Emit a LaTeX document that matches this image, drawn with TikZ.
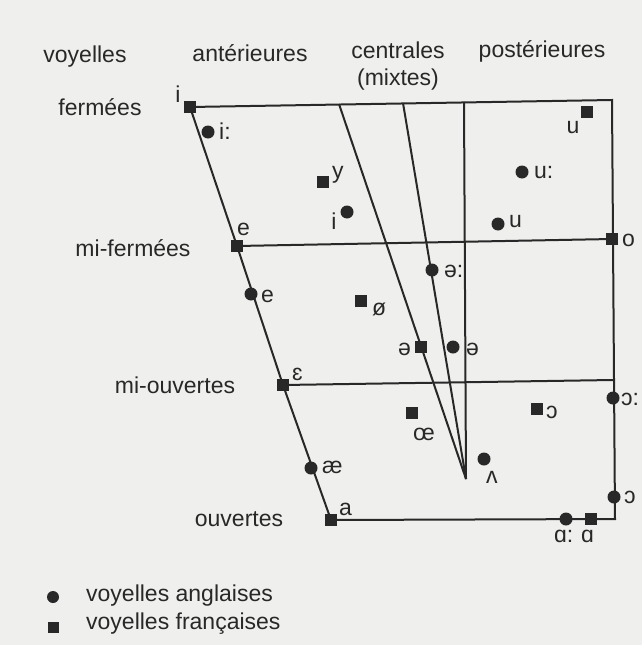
\documentclass[tikz,border=0pt]{standalone}
\usepackage{fontspec}
\setmainfont{Liberation Sans}
\definecolor{paper}{RGB}{239,239,237}
\definecolor{ink}{RGB}{40,40,40}
\tikzset{
  en/.style={circle, fill=ink, inner sep=0pt, minimum size=13pt},
  fr/.style={rectangle, fill=ink, inner sep=0pt, minimum size=12pt},
  lbl/.style={inner sep=0pt, text=ink, font=\fontsize{23}{27}\selectfont},
  chart/.style={draw=ink, line width=2pt}
}
\begin{document}
\begin{tikzpicture}[x=1pt, y=-1pt]
  \fill [paper] (0,0) rectangle (642,645);
  \useasboundingbox (0,0) rectangle (642,645);
  % headings
  \node [lbl, anchor=base] (hvoy) at (85,62) {voyelles};
  \node [lbl, anchor=base] (hant) at (250,61) {antérieures};
  \node [lbl, anchor=base] (hcen) at (398,58) {centrales};
  \node [lbl, anchor=base] (hmix) at (398,85) {(mixtes)};
  \node [lbl, anchor=base] (hpos) at (542,57) {postérieures};
  \node [lbl, anchor=base] (rfer) at (100,115) {fermées};
  \node [lbl, anchor=base] (rmif) at (133,256) {mi-fermées};
  \node [lbl, anchor=base] (rmio) at (175,393) {mi-ouvertes};
  \node [lbl, anchor=base] (rouv) at (239,526) {ouvertes};
  % corners of the chart
  \coordinate (tr) at (612,100);
  \coordinate (br) at (615,519);
  \coordinate (mor) at (613,380);
  \coordinate (fa) at (339,104);
  \coordinate (fb) at (403,103);
  \coordinate (fc) at (464,102);
  \coordinate (apex) at (466,479);
  % vowels
  \node [fr] (i) at (190,107) {};
  \node [lbl, anchor=base] (li) at (178,102) {i};
  \node [en] (iiE) at (208,132) {};
  \node [lbl, anchor=base west] (liiE) at (219,139) {i:};
  \node [fr] (y) at (323,182) {};
  \node [lbl, anchor=base west] (ly) at (332,178) {y};
  \node [en] (iE) at (347,212) {};
  \node [lbl, anchor=base] (liE) at (334,229) {i};
  \node [fr] (uF) at (587,112) {};
  \node [lbl, anchor=base] (luF) at (573,133) {u};
  \node [en] (uuE) at (522,172) {};
  \node [lbl, anchor=base west] (luuE) at (534,178) {u:};
  \node [en] (uE) at (498,224) {};
  \node [lbl, anchor=base west] (luE) at (509,227) {u};
  \node [fr] (e) at (237,246) {};
  \node [lbl, anchor=base west] (le) at (237,235) {e};
  \node [fr] (o) at (612,239) {};
  \node [lbl, anchor=base west] (lo) at (622,246) {o};
  \node [en] (eeE) at (432,270) {};
  \node [lbl, anchor=base west] (leeE) at (444,277) {ə:};
  \node [en] (eE) at (251,294) {};
  \node [lbl, anchor=base west] (leE) at (261,302) {e};
  \node [fr] (oeF) at (361,301) {};
  \node [lbl, anchor=base west] (loeF) at (372,315) {ø};
  \node [fr] (schF) at (421,347) {};
  \node [lbl, anchor=base east] (lschF) at (411,355) {ə};
  \node [en] (schE) at (453,347) {};
  \node [lbl, anchor=base west] (lschE) at (466,355) {ə};
  \node [fr] (eps) at (283,385) {};
  \node [lbl, anchor=base west] (leps) at (292,380) {ɛ};
  \node [en] (ooE) at (613,398) {};
  \node [lbl, anchor=base west] (looE) at (621,405) {ɔ:};
  \node [fr] (oF) at (537,409) {};
  \node [lbl, anchor=base west] (loF) at (546,418) {ɔ};
  \node [fr] (oelig) at (412,413) {};
  \node [lbl, anchor=base] (loelig) at (424,440) {œ};
  \node [en] (ae) at (311,468) {};
  \node [lbl, anchor=base west] (lae) at (322,473) {æ};
  \node [en] (wedge) at (484,459) {};
  \node [lbl, anchor=base west] (lwedge) at (486,483) {ʌ};
  \node [en] (oE) at (614,497) {};
  \node [lbl, anchor=base west] (loE) at (624,503) {ɔ};
  \node [fr] (a) at (331,520) {};
  \node [lbl, anchor=base west] (la) at (339,515) {a};
  \node [en] (aaE) at (566,519) {};
  \node [lbl, anchor=base west] (laaE) at (554,542) {ɑ:};
  \node [fr] (aF) at (591,519) {};
  \node [lbl, anchor=base west] (laF) at (581,542) {ɑ};
  % chart lines
  \draw [chart] (i.center) -- (tr) -- (br) -- (a.center);
  \draw [chart] (i.center) -- (e.center) -- (eps.center) -- (a.center);
  \draw [chart] (e.center) -- (o.center);
  \draw [chart] (eps.center) -- (mor);
  \draw [chart] (fa) -- (apex);
  \draw [chart] (fb) -- (apex);
  \draw [chart] (fc) -- (apex);
  % legend
  \node [en, minimum size=12pt] (kEn) at (53,597) {};
  \node [lbl, anchor=base west] (lkEn) at (86,601) {voyelles anglaises};
  \node [fr, minimum size=11pt] (kFr) at (53,627) {};
  \node [lbl, anchor=base west] (lkFr) at (86,629) {voyelles françaises};
\end{tikzpicture}
\end{document}
